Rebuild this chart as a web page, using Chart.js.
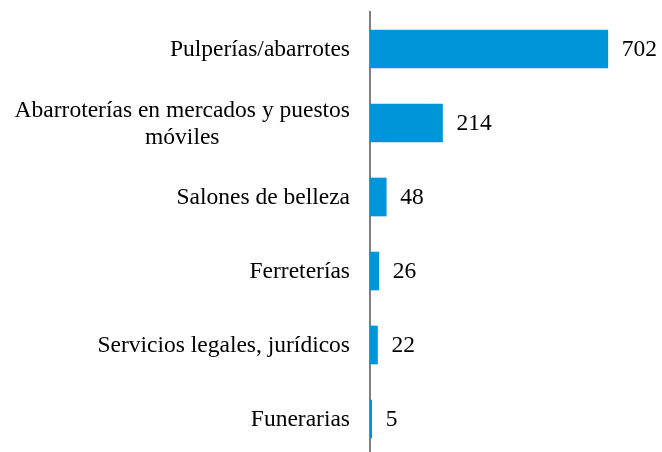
<!DOCTYPE html>
<html>
<head>
<meta charset="utf-8">
<script src="https://cdn.jsdelivr.net/npm/chart.js@4/dist/chart.umd.min.js"></script>
<style>
  html, body { margin: 0; padding: 0; background: #fff; overflow: hidden; }
  #wrap { width: 662px; height: 456px; }
</style>
</head>
<body>
<div id="wrap"><canvas id="negocios"></canvas></div>
<script>
var categorias = [
  "Pulperías/abarrotes",
  ["Abarroterías en mercados y puestos", "móviles"],
  "Salones de belleza",
  "Ferreterías",
  "Servicios legales, jurídicos",
  "Funerarias"
];
var cantidades = [702, 214, 48, 26, 22, 5];

var FUENTE = '23.5px "Liberation Serif", "Times New Roman", serif';

// category names: single lines right aligned, wrapped ones centred as a block
var etiquetasCategoria = {
  id: 'etiquetasCategoria',
  afterDraw: function(chart) {
    var c = chart.ctx, y = chart.scales.y;
    var derecha = y.right - 20;
    c.save();
    c.font = FUENTE;
    c.fillStyle = '#000';
    c.textBaseline = 'middle';
    categorias.forEach(function(lab, i) {
      var cy = y.getPixelForValue(i);
      var lineas = Array.isArray(lab) ? lab : [lab];
      var alto = 27;
      var ancho = Math.max.apply(null, lineas.map(function(l) { return c.measureText(l).width; }));
      var centro = derecha - ancho / 2;
      lineas.forEach(function(l, j) {
        var ly = cy + (j - (lineas.length - 1) / 2) * alto + 1;
        c.textAlign = 'center';
        c.fillText(l, centro, ly);
      });
    });
    c.restore();
  }
};

// value next to each bar
var etiquetasValor = {
  id: 'etiquetasValor',
  afterDatasetsDraw: function(chart) {
    var c = chart.ctx;
    var meta = chart.getDatasetMeta(0);
    c.save();
    c.font = FUENTE;
    c.fillStyle = '#000';
    c.textAlign = 'left';
    c.textBaseline = 'middle';
    meta.data.forEach(function(bar, i) {
      c.fillText(String(cantidades[i]), bar.x + 14, bar.y + 1);
    });
    c.restore();
  }
};

var ctx = document.getElementById("negocios");
var grafico = new Chart(ctx, {
  type: 'bar',
  data: {
    labels: categorias,
    datasets: [{
      data: cantidades,
      backgroundColor: "#0094D9",
      borderWidth: 0,
      barThickness: 38
    }]
  },
  options: {
    indexAxis: 'y',
    responsive: true,
    maintainAspectRatio: false,
    animation: false,
    layout: { padding: { top: 12, right: 21, bottom: 0, left: 0 } },
    plugins: { legend: { display: false }, tooltip: { enabled: false } },
    scales: {
      x: {
        min: 0,
        max: 800,
        display: false
      },
      y: {
        grid: { display: false, drawTicks: false },
        border: { display: true, color: "#7f7f7f", width: 2 },
        ticks: { display: false },
        afterFit: function(scale) { scale.width = 370; }
      }
    }
  },
  plugins: [etiquetasCategoria, etiquetasValor]
});
</script>
</body>
</html>
